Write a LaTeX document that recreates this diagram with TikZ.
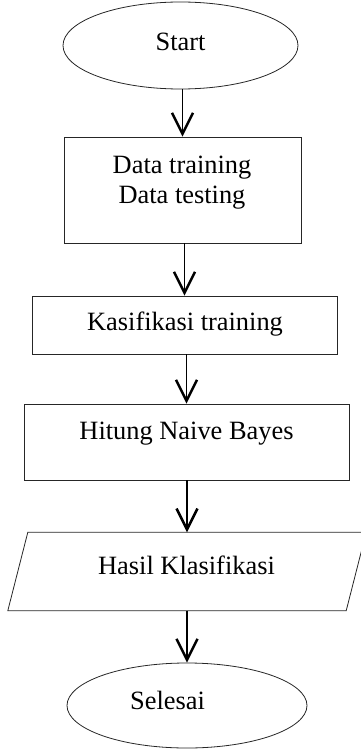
\documentclass[tikz,border=0pt]{standalone}
\usepackage{fontspec}
\setmainfont{Liberation Serif}
\usetikzlibrary{shapes.geometric,arrows.meta}

\begin{document}
\begin{tikzpicture}[x=1pt,y=-1pt,
    outline/.style={draw=black!85,line width=0.8pt},
    terminal/.style={outline,ellipse,inner sep=0pt},
    process/.style={outline,rectangle,inner sep=0pt},
    frame/.style={rectangle,inner sep=0pt},
    label/.style={anchor=base,inner sep=0pt,font=\fontsize{26.4}{30}\selectfont},
    flow/.style={line width=1.8pt,-{Straight Barb[length=21pt,width=21pt,line width=2.5pt]}}]

  \useasboundingbox (0,0) rectangle (361,749);

  % shapes
  \node[terminal,minimum width=235pt,minimum height=87pt] (start) at (180.5,45.5) {};
  \node[process,minimum width=237pt,minimum height=106pt] (data) at (182.5,190) {};
  \node[process,minimum width=305pt,minimum height=58pt] (klas) at (184.5,325) {};
  \node[process,minimum width=325pt,minimum height=76pt] (nb) at (186.5,442) {};
  \node[frame,minimum width=338pt,minimum height=78pt] (hasil) at (187,571.5) {};
  % input/output parallelogram, leaning right
  \draw[outline] ([xshift=10pt]hasil.north west) -- ([xshift=10pt]hasil.north east)
     -- ([xshift=-10pt]hasil.south east) -- ([xshift=-10pt]hasil.south west) -- cycle;
  \node[terminal,minimum width=240pt,minimum height=85pt] (selesai) at (187,705.5) {};

  % texts
  \node[label] (tstart) at (180.5,51) {Start};
  \node[label] (tdata1) at (182,173) {Data training};
  \node[label] (tdata2) at (182,203) {Data testing};
  \node[label] (tklas) at (185,330) {Kasifikasi training};
  \node[label] (tnb) at (186.5,439) {Hitung Naive Bayes};
  \node[label] (thasil) at (186.5,574) {Hasil Klasifikasi};
  \node[label] (tselesai) at (167.5,709) {Selesai};

  % connectors
  \draw[flow] (start.south -| data.north) -- (data.north);
  \draw[flow] (data.south -| klas.north) -- (klas.north);
  \draw[flow] (klas.south -| nb.north) -- (nb.north);
  \draw[flow] (nb.south -| hasil.north) -- (hasil.north);
  \draw[flow] (hasil.south) -- (hasil.south |- selesai.north);
\end{tikzpicture}
\end{document}
